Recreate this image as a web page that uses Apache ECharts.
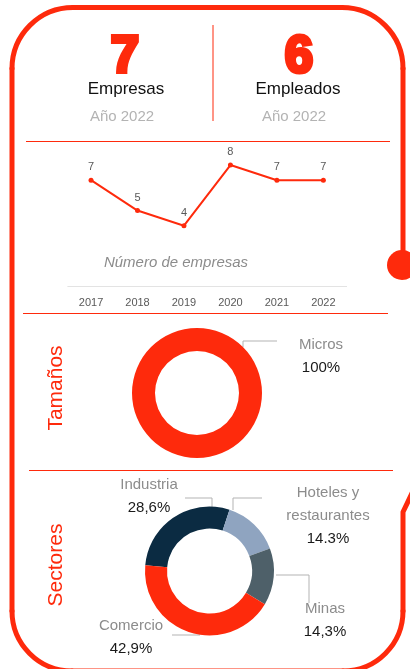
<!DOCTYPE html>
<html>
<head>
<meta charset="utf-8">
<script src="https://cdn.jsdelivr.net/npm/echarts@6/dist/echarts.min.js"></script>
<style>
  html, body { margin: 0; padding: 0; background: #fff; }
  #chart { width: 410px; height: 669px; }
</style>
</head>
<body>
<div id="chart"></div>
<script>
// datos
const totalEmpresas = '7'
const totalEmpleados = '6'
const anio = 'Año 2022'
const years = ['2017', '2018', '2019', '2020', '2021', '2022']
const empresasPorAnio = [7, 5, 4, 8, 7, 7]
const tamanoNames = ['Micros']
const tamanoValues = [100]
const tamanoLabels = ['100%']
const sectorNames = ['Industria', 'Hoteles y\nrestaurantes', 'Minas', 'Comercio']
const sectorValues = [28.6, 14.3, 14.3, 42.9]
const sectorLabels = ['28,6%', '14.3%', '14,3%', '42,9%']

const RED = '#fe2a0c'
const FONT = '"Liberation Sans", Arial, sans-serif'
const sectorColors = ['#0b2b42', '#8fa4c0', '#4e6069', RED]

// posiciones de etiquetas (layout)
const tamanoLabelPos = [[321, 356]]
const tamanoLinePts = [[[243, 347], [243, 341], [277, 341]]]
const sectorLabelPos = [[149, 496], [328, 516], [325, 620], [131, 637]]
const sectorLinePts = [
  [[212, 508], [212, 498], [185, 498]],
  [[233, 510], [233, 498], [262, 498]],
  [[276, 575], [309, 575], [309, 603]],
  [[200, 635], [186, 635], [172, 635]]
]

const chart = echarts.init(document.getElementById('chart'))

function pieLabel(labels) {
  return {
    show: true,
    position: 'outside',
    align: 'center',
    formatter: p => `{n|${p.name}}\n{v|${labels[p.dataIndex]}}`,
    rich: {
      n: { color: '#8c8c8c', fontSize: 15, lineHeight: 23, fontFamily: FONT, align: 'center' },
      v: { color: '#1a1a1a', fontSize: 15, lineHeight: 23, fontFamily: FONT, align: 'center' }
    }
  }
}

function txt(text, x, y, font, fill, extra) {
  return Object.assign({
    type: 'text',
    x: x,
    y: y,
    style: { text: text, font: font, fill: fill, textAlign: 'center', textVerticalAlign: 'middle' }
  }, extra || {})
}

// marco redondeado
const frameStyle = { fill: 'none', stroke: RED, lineWidth: 5, lineCap: 'round', lineJoin: 'round' }
function seg(x1, y1, x2, y2) {
  return { type: 'line', shape: { x1, y1, x2, y2 }, style: frameStyle }
}
function corner(cx, cy, r, a0, a1) {
  return { type: 'arc', shape: { cx, cy, r, startAngle: a0, endAngle: a1, clockwise: true }, style: frameStyle }
}
const frame = [
  seg(403, 68.5, 403, 252),
  corner(342, 68.5, 61, -Math.PI / 2, 0),
  seg(73, 7.5, 342, 7.5),
  corner(73, 68.5, 61, Math.PI, Math.PI * 1.5),
  seg(12, 68.5, 12, 611),
  corner(72, 611, 60, Math.PI / 2, Math.PI),
  seg(72, 671, 343, 671),
  corner(343, 611, 60, 0, Math.PI / 2),
  { type: 'polyline', shape: { points: [[414, 489], [403, 512], [403, 611]] }, style: frameStyle }
]

const option = {
  animation: false,
  grid: { left: 67.8, width: 278.8, top: 134.7, height: 151.7 },
  xAxis: {
    type: 'category',
    data: years,
    axisTick: { show: false },
    axisLine: { lineStyle: { color: '#e3e3e3', width: 1 } },
    axisLabel: { color: '#595959', fontSize: 11, fontFamily: FONT, margin: 11 }
  },
  yAxis: { type: 'value', min: 0, max: 10, show: false },
  series: [
    {
      type: 'line',
      data: empresasPorAnio,
      symbol: 'circle',
      symbolSize: 5,
      lineStyle: { color: RED, width: 2 },
      itemStyle: { color: RED },
      label: { show: true, position: 'top', distance: 5, color: '#595959', fontSize: 11, fontFamily: FONT },
      emphasis: { disabled: true }
    },
    {
      type: 'pie',
      center: [197, 393],
      radius: [42, 65],
      startAngle: 90,
      data: tamanoNames.map((n, i) => ({ name: n, value: tamanoValues[i], itemStyle: { color: RED } })),
      label: pieLabel(tamanoLabels),
      labelLine: { show: true, lineStyle: { color: '#b3b3b3', width: 1 } },
      labelLayout: p => ({
        x: tamanoLabelPos[p.dataIndex][0], y: tamanoLabelPos[p.dataIndex][1],
        align: 'center', verticalAlign: 'middle',
        labelLinePoints: tamanoLinePts[p.dataIndex]
      }),
      emphasis: { disabled: true }
    },
    {
      type: 'pie',
      center: [209.5, 571],
      radius: [42.5, 64.5],
      startAngle: 174.8,
      clockwise: true,
      data: sectorNames.map((n, i) => ({ name: n, value: sectorValues[i], itemStyle: { color: sectorColors[i] } })),
      label: pieLabel(sectorLabels),
      labelLine: { show: true, lineStyle: { color: '#b3b3b3', width: 1 } },
      labelLayout: p => ({
        x: sectorLabelPos[p.dataIndex][0], y: sectorLabelPos[p.dataIndex][1],
        align: 'center', verticalAlign: 'middle',
        labelLinePoints: sectorLinePts[p.dataIndex]
      }),
      emphasis: { disabled: true }
    }
  ],
  graphic: frame.concat([
    { type: 'circle', shape: { cx: 402, cy: 265, r: 15 }, style: { fill: RED } },
    { type: 'line', shape: { x1: 213, y1: 25, x2: 213, y2: 121 }, style: { stroke: RED, lineWidth: 1 } },
    { type: 'line', shape: { x1: 26, y1: 141.5, x2: 390, y2: 141.5 }, style: { stroke: RED, lineWidth: 1 } },
    { type: 'line', shape: { x1: 23, y1: 313.5, x2: 388, y2: 313.5 }, style: { stroke: RED, lineWidth: 1 } },
    { type: 'line', shape: { x1: 29, y1: 470.5, x2: 393, y2: 470.5 }, style: { stroke: RED, lineWidth: 1 } },
    txt(totalEmpresas, 125, 58, '', RED, { style: { text: totalEmpresas, font: 'bold 51px ' + FONT, fill: RED, stroke: RED, lineWidth: 4, textAlign: 'center', textVerticalAlign: 'middle' } }),
    txt(totalEmpleados, 299, 58, '', RED, { style: { text: totalEmpleados, font: 'bold 51px ' + FONT, fill: RED, stroke: RED, lineWidth: 4, textAlign: 'center', textVerticalAlign: 'middle' } }),
    txt('Empresas', 126, 89, '17px ' + FONT, '#111'),
    txt('Empleados', 298, 89, '17px ' + FONT, '#111'),
    txt(anio, 122, 117, '15px ' + FONT, '#b3b3b3'),
    txt(anio, 294, 117, '15px ' + FONT, '#b3b3b3'),
    txt('Número de empresas', 176, 263, 'italic 15px ' + FONT, '#8c8c8c'),
    txt('Tamaños', 56, 388, '21px ' + FONT, RED, { rotation: Math.PI / 2 }),
    txt('Sectores', 56, 565, '21px ' + FONT, RED, { rotation: Math.PI / 2 })
  ])
}

chart.setOption(option)
</script>
</body>
</html>
